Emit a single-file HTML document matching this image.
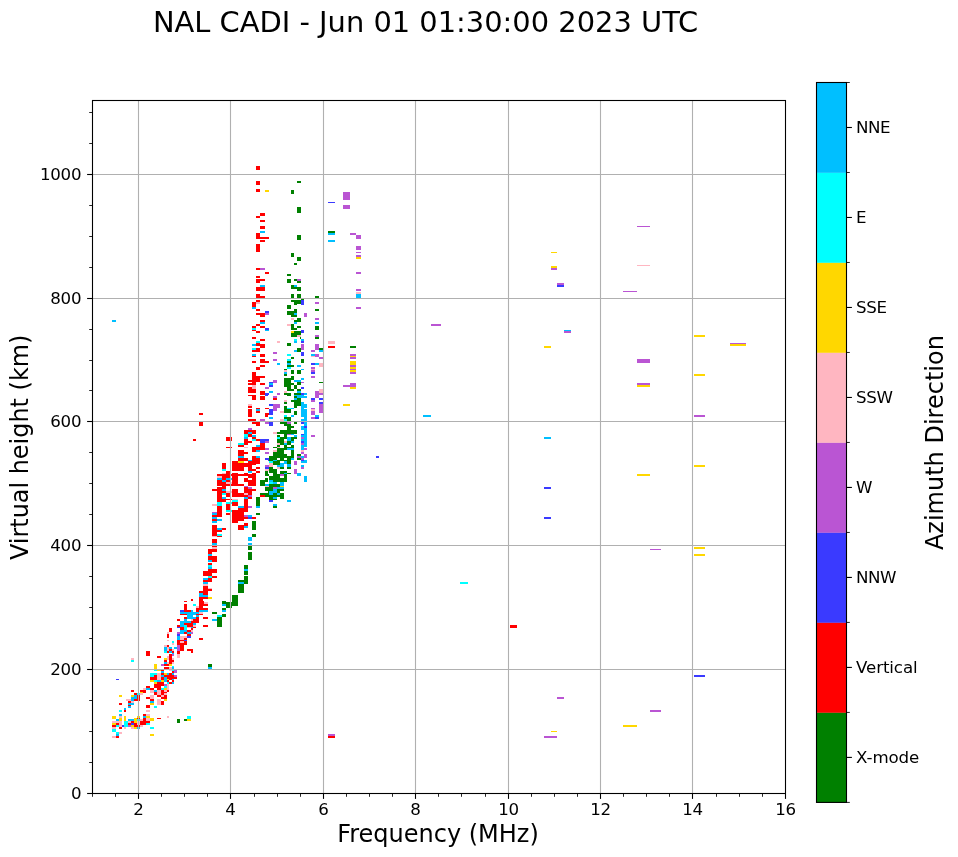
<!DOCTYPE html>
<html><head><meta charset="utf-8"><title>NAL CADI ionogram</title>
<style>
html,body{margin:0;padding:0;background:#fff;}
body{width:958px;height:857px;overflow:hidden;}
svg{display:block;will-change:transform;}
text{font-family:"DejaVu Sans","Liberation Sans",sans-serif;fill:#000;}
.tk{font-size:16.67px;letter-spacing:-0.3px;}
.cb{font-size:16.67px;letter-spacing:-0.1px;}
.lb{font-size:24px;}
.ti{font-size:28.9px;}
</style></head><body>
<svg width="958" height="857" viewBox="0 0 958 857">
<rect x="0" y="0" width="958" height="857" fill="#ffffff"/>

<g shape-rendering="crispEdges">
<rect x="112" y="736" width="4" height="2" fill="#ffb6c1"/>
<rect x="116" y="736" width="3" height="2" fill="#ff0000"/>
<rect x="116" y="734" width="3" height="2" fill="#00bfff"/>
<rect x="116" y="732" width="3" height="2" fill="#00ffff"/>
<rect x="119" y="732" width="3" height="2" fill="#ffb6c1"/>
<rect x="112" y="729" width="4" height="3" fill="#00ffff"/>
<rect x="112" y="727" width="4" height="2" fill="#ffb6c1"/>
<rect x="119" y="727" width="3" height="2" fill="#ff0000"/>
<rect x="124" y="727" width="2" height="2" fill="#ffb6c1"/>
<rect x="131" y="727" width="3" height="2" fill="#ffb6c1"/>
<rect x="134" y="727" width="3" height="2" fill="#ffd700"/>
<rect x="137" y="727" width="3" height="2" fill="#00bfff"/>
<rect x="150" y="727" width="4" height="2" fill="#00ffff"/>
<rect x="112" y="725" width="4" height="2" fill="#ff0000"/>
<rect x="116" y="725" width="3" height="2" fill="#00ffff"/>
<rect x="119" y="725" width="3" height="2" fill="#ffb6c1"/>
<rect x="122" y="725" width="2" height="2" fill="#3a3aff"/>
<rect x="124" y="725" width="4" height="2" fill="#00ffff"/>
<rect x="128" y="725" width="3" height="2" fill="#ba55d3"/>
<rect x="131" y="725" width="3" height="2" fill="#ffd700"/>
<rect x="134" y="725" width="6" height="2" fill="#ff0000"/>
<rect x="140" y="725" width="3" height="2" fill="#ffb6c1"/>
<rect x="112" y="723" width="4" height="2" fill="#ffd700"/>
<rect x="116" y="723" width="3" height="2" fill="#ff0000"/>
<rect x="119" y="723" width="3" height="2" fill="#ffb6c1"/>
<rect x="124" y="723" width="4" height="2" fill="#00ffff"/>
<rect x="128" y="723" width="3" height="2" fill="#ff0000"/>
<rect x="131" y="723" width="3" height="2" fill="#3a3aff"/>
<rect x="134" y="723" width="3" height="2" fill="#ff0000"/>
<rect x="137" y="723" width="3" height="2" fill="#ffb6c1"/>
<rect x="140" y="723" width="6" height="2" fill="#ff0000"/>
<rect x="146" y="723" width="4" height="2" fill="#00ffff"/>
<rect x="112" y="721" width="10" height="2" fill="#ffb6c1"/>
<rect x="124" y="721" width="4" height="2" fill="#00ffff"/>
<rect x="128" y="721" width="3" height="2" fill="#ffb6c1"/>
<rect x="131" y="721" width="3" height="2" fill="#ff0000"/>
<rect x="134" y="721" width="3" height="2" fill="#ffd700"/>
<rect x="137" y="721" width="3" height="2" fill="#ffb6c1"/>
<rect x="140" y="721" width="10" height="2" fill="#ff0000"/>
<rect x="116" y="719" width="3" height="2" fill="#00bfff"/>
<rect x="119" y="719" width="3" height="2" fill="#ffd700"/>
<rect x="124" y="719" width="2" height="2" fill="#ffd700"/>
<rect x="128" y="719" width="6" height="2" fill="#00bfff"/>
<rect x="134" y="719" width="3" height="2" fill="#ffd700"/>
<rect x="137" y="719" width="3" height="2" fill="#00ffff"/>
<rect x="140" y="719" width="3" height="2" fill="#ffb6c1"/>
<rect x="143" y="719" width="3" height="2" fill="#ff0000"/>
<rect x="146" y="719" width="4" height="2" fill="#ffb6c1"/>
<rect x="150" y="719" width="4" height="2" fill="#ffd700"/>
<rect x="119" y="718" width="3" height="1" fill="#ffd700"/>
<rect x="124" y="718" width="2" height="1" fill="#ffd700"/>
<rect x="134" y="718" width="3" height="1" fill="#ffd700"/>
<rect x="137" y="718" width="3" height="1" fill="#ff0000"/>
<rect x="143" y="718" width="3" height="1" fill="#ff0000"/>
<rect x="146" y="718" width="4" height="1" fill="#ffb6c1"/>
<rect x="150" y="718" width="4" height="1" fill="#ffd700"/>
<rect x="157" y="718" width="4" height="1" fill="#ff0000"/>
<rect x="112" y="716" width="4" height="2" fill="#ffd700"/>
<rect x="119" y="716" width="3" height="2" fill="#ffb6c1"/>
<rect x="124" y="716" width="2" height="2" fill="#ffd700"/>
<rect x="137" y="716" width="3" height="2" fill="#ffd700"/>
<rect x="143" y="716" width="3" height="2" fill="#00bfff"/>
<rect x="146" y="716" width="4" height="2" fill="#ffd700"/>
<rect x="167" y="716" width="2" height="2" fill="#ffb6c1"/>
<rect x="112" y="718" width="4" height="1" fill="#ffd700"/>
<rect x="119" y="714" width="3" height="2" fill="#00bfff"/>
<rect x="143" y="714" width="3" height="2" fill="#ff0000"/>
<rect x="146" y="714" width="4" height="2" fill="#ffb6c1"/>
<rect x="119" y="710" width="3" height="2" fill="#00ffff"/>
<rect x="124" y="710" width="2" height="2" fill="#ff0000"/>
<rect x="146" y="710" width="4" height="2" fill="#ffb6c1"/>
<rect x="124" y="708" width="2" height="2" fill="#00bfff"/>
<rect x="128" y="706" width="3" height="2" fill="#00bfff"/>
<rect x="146" y="706" width="4" height="2" fill="#ff0000"/>
<rect x="154" y="706" width="3" height="2" fill="#00ffff"/>
<rect x="128" y="705" width="3" height="1" fill="#ff0000"/>
<rect x="146" y="705" width="4" height="1" fill="#ff0000"/>
<rect x="119" y="703" width="3" height="2" fill="#ff0000"/>
<rect x="128" y="703" width="6" height="2" fill="#00bfff"/>
<rect x="150" y="703" width="4" height="2" fill="#ffd700"/>
<rect x="161" y="703" width="3" height="2" fill="#ff0000"/>
<rect x="128" y="701" width="3" height="2" fill="#ff0000"/>
<rect x="131" y="701" width="3" height="2" fill="#ffb6c1"/>
<rect x="150" y="701" width="4" height="2" fill="#00bfff"/>
<rect x="161" y="701" width="3" height="2" fill="#ff0000"/>
<rect x="157" y="701" width="4" height="2" fill="#ffb6c1"/>
<rect x="126" y="699" width="5" height="2" fill="#ffb6c1"/>
<rect x="131" y="699" width="3" height="2" fill="#00bfff"/>
<rect x="134" y="699" width="6" height="2" fill="#ff0000"/>
<rect x="150" y="699" width="4" height="2" fill="#ff0000"/>
<rect x="157" y="699" width="4" height="2" fill="#ffb6c1"/>
<rect x="164" y="699" width="3" height="2" fill="#ffd700"/>
<rect x="131" y="697" width="6" height="2" fill="#00bfff"/>
<rect x="137" y="697" width="3" height="2" fill="#ff0000"/>
<rect x="146" y="697" width="4" height="2" fill="#ff0000"/>
<rect x="150" y="697" width="4" height="2" fill="#ffb6c1"/>
<rect x="161" y="697" width="6" height="2" fill="#ff0000"/>
<rect x="119" y="695" width="3" height="2" fill="#ffd700"/>
<rect x="131" y="695" width="3" height="2" fill="#ffd700"/>
<rect x="134" y="695" width="3" height="2" fill="#00bfff"/>
<rect x="137" y="695" width="3" height="2" fill="#ff0000"/>
<rect x="150" y="695" width="4" height="2" fill="#ffb6c1"/>
<rect x="157" y="695" width="4" height="2" fill="#ff0000"/>
<rect x="161" y="695" width="3" height="2" fill="#ffb6c1"/>
<rect x="164" y="695" width="3" height="2" fill="#ff0000"/>
<rect x="134" y="693" width="3" height="2" fill="#ff0000"/>
<rect x="137" y="693" width="3" height="2" fill="#00ffff"/>
<rect x="140" y="693" width="3" height="2" fill="#ffb6c1"/>
<rect x="154" y="693" width="3" height="2" fill="#ff0000"/>
<rect x="157" y="693" width="4" height="2" fill="#ffb6c1"/>
<rect x="161" y="693" width="3" height="2" fill="#ff0000"/>
<rect x="164" y="693" width="3" height="2" fill="#ffb6c1"/>
<rect x="140" y="692" width="3" height="1" fill="#ffd700"/>
<rect x="143" y="692" width="3" height="1" fill="#ff0000"/>
<rect x="150" y="692" width="4" height="1" fill="#ffb6c1"/>
<rect x="154" y="692" width="3" height="1" fill="#ff0000"/>
<rect x="157" y="692" width="4" height="1" fill="#ffb6c1"/>
<rect x="161" y="692" width="6" height="1" fill="#ff0000"/>
<rect x="150" y="734" width="4" height="2" fill="#ffd700"/>
<rect x="157" y="703" width="4" height="2" fill="#ffb6c1"/>
<rect x="177" y="719" width="3" height="4" fill="#008000"/>
<rect x="184" y="719" width="3" height="2" fill="#008000"/>
<rect x="187" y="719" width="4" height="2" fill="#ffd700"/>
<rect x="187" y="716" width="4" height="3" fill="#00ffff"/>
<rect x="131" y="690" width="3" height="2" fill="#ff0000"/>
<rect x="140" y="690" width="6" height="2" fill="#ff0000"/>
<rect x="150" y="690" width="4" height="2" fill="#ffb6c1"/>
<rect x="154" y="690" width="3" height="2" fill="#00bfff"/>
<rect x="157" y="690" width="4" height="2" fill="#ffb6c1"/>
<rect x="161" y="690" width="3" height="2" fill="#ff0000"/>
<rect x="164" y="690" width="3" height="2" fill="#ffb6c1"/>
<rect x="167" y="690" width="2" height="2" fill="#ff0000"/>
<rect x="143" y="688" width="3" height="2" fill="#ffb6c1"/>
<rect x="146" y="688" width="4" height="2" fill="#00bfff"/>
<rect x="150" y="688" width="4" height="2" fill="#ff0000"/>
<rect x="157" y="688" width="4" height="2" fill="#ff0000"/>
<rect x="161" y="688" width="3" height="2" fill="#00ffff"/>
<rect x="164" y="688" width="3" height="2" fill="#ffd700"/>
<rect x="167" y="688" width="2" height="2" fill="#ffb6c1"/>
<rect x="146" y="686" width="4" height="2" fill="#ff0000"/>
<rect x="154" y="686" width="7" height="2" fill="#ff0000"/>
<rect x="164" y="686" width="3" height="2" fill="#00ffff"/>
<rect x="167" y="686" width="2" height="2" fill="#ffb6c1"/>
<rect x="154" y="684" width="10" height="2" fill="#ff0000"/>
<rect x="164" y="684" width="3" height="2" fill="#ba55d3"/>
<rect x="167" y="684" width="2" height="2" fill="#ffb6c1"/>
<rect x="154" y="682" width="3" height="2" fill="#ffd700"/>
<rect x="157" y="682" width="7" height="2" fill="#ff0000"/>
<rect x="167" y="682" width="2" height="2" fill="#00ffff"/>
<rect x="169" y="682" width="3" height="2" fill="#ff0000"/>
<rect x="150" y="680" width="4" height="2" fill="#ffd700"/>
<rect x="154" y="680" width="3" height="2" fill="#00ffff"/>
<rect x="157" y="680" width="4" height="2" fill="#00bfff"/>
<rect x="161" y="680" width="3" height="2" fill="#ffd700"/>
<rect x="164" y="680" width="3" height="2" fill="#00bfff"/>
<rect x="167" y="680" width="2" height="2" fill="#ff0000"/>
<rect x="150" y="679" width="7" height="1" fill="#ff0000"/>
<rect x="157" y="679" width="4" height="1" fill="#ffb6c1"/>
<rect x="161" y="679" width="3" height="1" fill="#ff0000"/>
<rect x="164" y="679" width="3" height="1" fill="#00bfff"/>
<rect x="169" y="679" width="3" height="1" fill="#ff0000"/>
<rect x="167" y="679" width="2" height="1" fill="#ffd700"/>
<rect x="150" y="677" width="7" height="2" fill="#ff0000"/>
<rect x="157" y="677" width="4" height="2" fill="#ffb6c1"/>
<rect x="161" y="677" width="3" height="2" fill="#ff0000"/>
<rect x="164" y="677" width="3" height="2" fill="#00bfff"/>
<rect x="167" y="677" width="5" height="2" fill="#ff0000"/>
<rect x="150" y="675" width="4" height="2" fill="#00ffff"/>
<rect x="154" y="675" width="3" height="2" fill="#ff0000"/>
<rect x="157" y="675" width="4" height="2" fill="#ffb6c1"/>
<rect x="161" y="675" width="3" height="2" fill="#00bfff"/>
<rect x="164" y="675" width="8" height="2" fill="#ff0000"/>
<rect x="150" y="673" width="7" height="2" fill="#00ffff"/>
<rect x="157" y="673" width="4" height="2" fill="#ffb6c1"/>
<rect x="161" y="673" width="3" height="2" fill="#ff0000"/>
<rect x="164" y="673" width="3" height="2" fill="#ffd700"/>
<rect x="167" y="673" width="2" height="2" fill="#00bfff"/>
<rect x="169" y="673" width="3" height="2" fill="#ff0000"/>
<rect x="161" y="671" width="3" height="2" fill="#00bfff"/>
<rect x="154" y="669" width="3" height="2" fill="#00ffff"/>
<rect x="157" y="669" width="4" height="2" fill="#ffd700"/>
<rect x="161" y="669" width="3" height="2" fill="#ff0000"/>
<rect x="169" y="669" width="3" height="2" fill="#ffb6c1"/>
<rect x="154" y="664" width="3" height="5" fill="#ffd700"/>
<rect x="164" y="667" width="5" height="2" fill="#ff0000"/>
<rect x="169" y="667" width="3" height="2" fill="#ffb6c1"/>
<rect x="161" y="664" width="3" height="2" fill="#ba55d3"/>
<rect x="164" y="664" width="5" height="2" fill="#ff0000"/>
<rect x="169" y="664" width="3" height="2" fill="#ffd700"/>
<rect x="164" y="662" width="3" height="2" fill="#00bfff"/>
<rect x="167" y="662" width="2" height="2" fill="#ffb6c1"/>
<rect x="169" y="662" width="3" height="2" fill="#ff0000"/>
<rect x="164" y="660" width="3" height="2" fill="#ff0000"/>
<rect x="169" y="660" width="3" height="2" fill="#ff0000"/>
<rect x="131" y="660" width="3" height="2" fill="#00ffff"/>
<rect x="164" y="658" width="3" height="2" fill="#ffd700"/>
<rect x="167" y="658" width="2" height="2" fill="#ffb6c1"/>
<rect x="169" y="658" width="3" height="2" fill="#ff0000"/>
<rect x="131" y="658" width="3" height="2" fill="#ffb6c1"/>
<rect x="157" y="656" width="4" height="2" fill="#ff0000"/>
<rect x="167" y="656" width="2" height="2" fill="#ffb6c1"/>
<rect x="169" y="656" width="3" height="2" fill="#ff0000"/>
<rect x="169" y="654" width="3" height="2" fill="#ff0000"/>
<rect x="146" y="651" width="4" height="5" fill="#ff0000"/>
<rect x="164" y="651" width="3" height="2" fill="#00ffff"/>
<rect x="167" y="651" width="2" height="2" fill="#ff0000"/>
<rect x="169" y="651" width="3" height="2" fill="#00bfff"/>
<rect x="164" y="649" width="3" height="2" fill="#00bfff"/>
<rect x="167" y="649" width="2" height="2" fill="#ffb6c1"/>
<rect x="169" y="649" width="3" height="2" fill="#ff0000"/>
<rect x="164" y="647" width="3" height="2" fill="#00bfff"/>
<rect x="167" y="647" width="2" height="2" fill="#ffb6c1"/>
<rect x="169" y="647" width="3" height="2" fill="#00bfff"/>
<rect x="164" y="645" width="3" height="2" fill="#ffb6c1"/>
<rect x="167" y="645" width="2" height="2" fill="#ff0000"/>
<rect x="167" y="640" width="2" height="1" fill="#ffb6c1"/>
<rect x="167" y="634" width="2" height="4" fill="#ff0000"/>
<rect x="116" y="679" width="3" height="1" fill="#3a3aff"/>
<rect x="172" y="682" width="2" height="2" fill="#00bfff"/>
<rect x="172" y="680" width="2" height="2" fill="#ff0000"/>
<rect x="172" y="679" width="2" height="1" fill="#00bfff"/>
<rect x="172" y="677" width="5" height="2" fill="#ff0000"/>
<rect x="172" y="675" width="2" height="2" fill="#ff0000"/>
<rect x="174" y="675" width="3" height="2" fill="#ba55d3"/>
<rect x="172" y="673" width="2" height="2" fill="#00bfff"/>
<rect x="172" y="671" width="2" height="2" fill="#ff0000"/>
<rect x="174" y="671" width="3" height="2" fill="#ba55d3"/>
<rect x="172" y="669" width="2" height="2" fill="#00ffff"/>
<rect x="174" y="669" width="3" height="2" fill="#ba55d3"/>
<rect x="172" y="667" width="2" height="2" fill="#00bfff"/>
<rect x="208" y="667" width="4" height="2" fill="#00bfff"/>
<rect x="172" y="666" width="2" height="1" fill="#00ffff"/>
<rect x="208" y="664" width="4" height="3" fill="#008000"/>
<rect x="172" y="662" width="2" height="2" fill="#ffb6c1"/>
<rect x="172" y="660" width="2" height="2" fill="#ff0000"/>
<rect x="172" y="658" width="2" height="2" fill="#ffb6c1"/>
<rect x="172" y="654" width="2" height="2" fill="#ba55d3"/>
<rect x="177" y="654" width="3" height="4" fill="#ffb6c1"/>
<rect x="172" y="653" width="2" height="1" fill="#00bfff"/>
<rect x="172" y="651" width="2" height="2" fill="#ff0000"/>
<rect x="191" y="651" width="2" height="2" fill="#ff0000"/>
<rect x="177" y="651" width="3" height="3" fill="#ff0000"/>
<rect x="172" y="649" width="2" height="2" fill="#ffb6c1"/>
<rect x="187" y="649" width="6" height="2" fill="#ff0000"/>
<rect x="174" y="647" width="3" height="2" fill="#00bfff"/>
<rect x="177" y="645" width="3" height="6" fill="#ba55d3"/>
<rect x="180" y="645" width="4" height="6" fill="#ff0000"/>
<rect x="177" y="641" width="10" height="4" fill="#ff0000"/>
<rect x="180" y="641" width="4" height="2" fill="#ffb6c1"/>
<rect x="172" y="641" width="2" height="2" fill="#00ffff"/>
<rect x="172" y="643" width="2" height="2" fill="#ffb6c1"/>
<rect x="177" y="640" width="7" height="1" fill="#ff0000"/>
<rect x="184" y="640" width="3" height="1" fill="#3a3aff"/>
<rect x="184" y="638" width="3" height="2" fill="#ff0000"/>
<rect x="199" y="638" width="4" height="2" fill="#ff0000"/>
<rect x="177" y="636" width="3" height="4" fill="#00bfff"/>
<rect x="180" y="636" width="4" height="4" fill="#ffb6c1"/>
<rect x="184" y="636" width="3" height="2" fill="#ffb6c1"/>
<rect x="187" y="636" width="4" height="2" fill="#3a3aff"/>
<rect x="177" y="634" width="3" height="2" fill="#3a3aff"/>
<rect x="187" y="634" width="4" height="2" fill="#ff0000"/>
<rect x="167" y="634" width="2" height="1" fill="#ff0000"/>
<rect x="177" y="634" width="3" height="1" fill="#3a3aff"/>
<rect x="187" y="634" width="4" height="1" fill="#ff0000"/>
<rect x="177" y="632" width="3" height="2" fill="#ba55d3"/>
<rect x="180" y="632" width="4" height="2" fill="#00bfff"/>
<rect x="184" y="632" width="3" height="2" fill="#ff0000"/>
<rect x="187" y="632" width="4" height="2" fill="#00bfff"/>
<rect x="191" y="632" width="2" height="2" fill="#ba55d3"/>
<rect x="167" y="632" width="2" height="2" fill="#ffb6c1"/>
<rect x="180" y="630" width="7" height="2" fill="#00bfff"/>
<rect x="187" y="630" width="4" height="2" fill="#ff0000"/>
<rect x="191" y="630" width="2" height="2" fill="#ffb6c1"/>
<rect x="169" y="628" width="3" height="4" fill="#ff0000"/>
<rect x="180" y="628" width="4" height="2" fill="#ff0000"/>
<rect x="184" y="628" width="3" height="2" fill="#00ffff"/>
<rect x="191" y="628" width="2" height="2" fill="#ff0000"/>
<rect x="177" y="627" width="3" height="1" fill="#3a3aff"/>
<rect x="180" y="627" width="4" height="1" fill="#ff0000"/>
<rect x="184" y="627" width="3" height="1" fill="#00ffff"/>
<rect x="187" y="627" width="4" height="1" fill="#ffb6c1"/>
<rect x="191" y="627" width="2" height="1" fill="#00bfff"/>
<rect x="193" y="627" width="3" height="1" fill="#ff0000"/>
<rect x="177" y="625" width="3" height="2" fill="#ff0000"/>
<rect x="180" y="625" width="4" height="2" fill="#00bfff"/>
<rect x="184" y="625" width="3" height="2" fill="#00ffff"/>
<rect x="187" y="625" width="6" height="2" fill="#ff0000"/>
<rect x="193" y="625" width="3" height="2" fill="#ffb6c1"/>
<rect x="203" y="625" width="1" height="2" fill="#ff0000"/>
<rect x="180" y="623" width="4" height="2" fill="#00bfff"/>
<rect x="184" y="623" width="9" height="2" fill="#ff0000"/>
<rect x="193" y="623" width="3" height="2" fill="#00bfff"/>
<rect x="180" y="621" width="11" height="2" fill="#00bfff"/>
<rect x="191" y="621" width="8" height="2" fill="#ff0000"/>
<rect x="177" y="619" width="3" height="2" fill="#ff0000"/>
<rect x="184" y="619" width="3" height="2" fill="#00bfff"/>
<rect x="191" y="619" width="2" height="2" fill="#ffb6c1"/>
<rect x="193" y="619" width="6" height="2" fill="#ff0000"/>
<rect x="184" y="617" width="3" height="2" fill="#ff0000"/>
<rect x="187" y="617" width="9" height="2" fill="#00bfff"/>
<rect x="196" y="617" width="3" height="2" fill="#ff0000"/>
<rect x="203" y="617" width="1" height="2" fill="#ff0000"/>
<rect x="187" y="615" width="6" height="2" fill="#00bfff"/>
<rect x="196" y="615" width="3" height="2" fill="#00bfff"/>
<rect x="180" y="614" width="7" height="1" fill="#ff0000"/>
<rect x="187" y="614" width="9" height="1" fill="#00bfff"/>
<rect x="196" y="614" width="7" height="1" fill="#ff0000"/>
<rect x="180" y="612" width="19" height="2" fill="#00bfff"/>
<rect x="199" y="612" width="4" height="2" fill="#ffb6c1"/>
<rect x="180" y="610" width="4" height="2" fill="#3a3aff"/>
<rect x="184" y="610" width="7" height="2" fill="#ff0000"/>
<rect x="191" y="610" width="2" height="2" fill="#00bfff"/>
<rect x="196" y="610" width="3" height="2" fill="#ff0000"/>
<rect x="199" y="610" width="5" height="2" fill="#00bfff"/>
<rect x="184" y="608" width="3" height="2" fill="#ff0000"/>
<rect x="196" y="608" width="8" height="2" fill="#ff0000"/>
<rect x="184" y="606" width="3" height="2" fill="#ff0000"/>
<rect x="196" y="606" width="3" height="2" fill="#ffb6c1"/>
<rect x="199" y="606" width="4" height="2" fill="#ff0000"/>
<rect x="184" y="604" width="3" height="2" fill="#ff0000"/>
<rect x="193" y="604" width="3" height="2" fill="#00ffff"/>
<rect x="199" y="604" width="5" height="2" fill="#ff0000"/>
<rect x="184" y="601" width="3" height="1" fill="#ff0000"/>
<rect x="191" y="599" width="2" height="2" fill="#ff0000"/>
<rect x="199" y="599" width="4" height="2" fill="#ff0000"/>
<rect x="199" y="597" width="5" height="2" fill="#ff0000"/>
<rect x="199" y="601" width="5" height="3" fill="#ff0000"/>
<rect x="199" y="593" width="5" height="4" fill="#00bfff"/>
<rect x="199" y="591" width="4" height="2" fill="#ff0000"/>
<rect x="203" y="586" width="1" height="9" fill="#ff0000"/>
<rect x="203" y="584" width="1" height="2" fill="#ffb6c1"/>
<rect x="203" y="582" width="1" height="2" fill="#00bfff"/>
<rect x="203" y="580" width="1" height="2" fill="#ff0000"/>
<rect x="203" y="578" width="1" height="2" fill="#00bfff"/>
<rect x="204" y="625" width="4" height="2" fill="#ff0000"/>
<rect x="204" y="617" width="4" height="2" fill="#ff0000"/>
<rect x="204" y="610" width="4" height="2" fill="#00bfff"/>
<rect x="222" y="610" width="4" height="2" fill="#00bfff"/>
<rect x="204" y="608" width="4" height="2" fill="#ff0000"/>
<rect x="222" y="608" width="4" height="2" fill="#008000"/>
<rect x="204" y="604" width="4" height="2" fill="#ff0000"/>
<rect x="222" y="604" width="4" height="2" fill="#00bfff"/>
<rect x="204" y="602" width="4" height="2" fill="#ffb6c1"/>
<rect x="204" y="597" width="4" height="2" fill="#ff0000"/>
<rect x="208" y="597" width="4" height="2" fill="#ffd700"/>
<rect x="204" y="595" width="4" height="2" fill="#00bfff"/>
<rect x="204" y="586" width="4" height="9" fill="#ff0000"/>
<rect x="208" y="589" width="4" height="2" fill="#ff0000"/>
<rect x="208" y="588" width="4" height="1" fill="#ffb6c1"/>
<rect x="204" y="584" width="4" height="2" fill="#ffb6c1"/>
<rect x="204" y="582" width="4" height="2" fill="#00bfff"/>
<rect x="238" y="582" width="6" height="2" fill="#00bfff"/>
<rect x="204" y="580" width="8" height="2" fill="#ff0000"/>
<rect x="238" y="580" width="6" height="2" fill="#008000"/>
<rect x="204" y="578" width="4" height="2" fill="#00bfff"/>
<rect x="208" y="578" width="4" height="2" fill="#ff0000"/>
<rect x="217" y="617" width="5" height="10" fill="#008000"/>
<rect x="217" y="615" width="5" height="2" fill="#00ffff"/>
<rect x="212" y="619" width="5" height="2" fill="#00bfff"/>
<rect x="212" y="612" width="5" height="2" fill="#008000"/>
<rect x="222" y="614" width="4" height="3" fill="#008000"/>
<rect x="222" y="601" width="4" height="3" fill="#008000"/>
<rect x="226" y="602" width="6" height="6" fill="#008000"/>
<rect x="232" y="595" width="6" height="11" fill="#008000"/>
<rect x="238" y="584" width="6" height="9" fill="#008000"/>
<rect x="244" y="578" width="4" height="6" fill="#008000"/>
<rect x="208" y="576" width="4" height="2" fill="#00ffff"/>
<rect x="212" y="576" width="5" height="2" fill="#ff0000"/>
<rect x="203" y="573" width="9" height="3" fill="#ff0000"/>
<rect x="203" y="571" width="14" height="2" fill="#ff0000"/>
<rect x="208" y="569" width="9" height="2" fill="#ff0000"/>
<rect x="208" y="567" width="4" height="2" fill="#00bfff"/>
<rect x="208" y="565" width="4" height="2" fill="#00ffff"/>
<rect x="208" y="563" width="4" height="2" fill="#ff0000"/>
<rect x="208" y="560" width="4" height="2" fill="#00bfff"/>
<rect x="212" y="556" width="5" height="6" fill="#ff0000"/>
<rect x="208" y="556" width="4" height="4" fill="#ff0000"/>
<rect x="208" y="554" width="4" height="2" fill="#00bfff"/>
<rect x="208" y="549" width="4" height="5" fill="#ff0000"/>
<rect x="212" y="549" width="5" height="3" fill="#ff0000"/>
<rect x="212" y="547" width="5" height="2" fill="#ffb6c1"/>
<rect x="212" y="545" width="5" height="2" fill="#ff0000"/>
<rect x="212" y="543" width="5" height="2" fill="#00bfff"/>
<rect x="212" y="539" width="5" height="4" fill="#ff0000"/>
<rect x="212" y="536" width="5" height="1" fill="#ffb6c1"/>
<rect x="217" y="536" width="5" height="1" fill="#ff0000"/>
<rect x="212" y="534" width="5" height="2" fill="#ff0000"/>
<rect x="217" y="534" width="5" height="2" fill="#00ffff"/>
<rect x="212" y="532" width="5" height="2" fill="#ff0000"/>
<rect x="212" y="530" width="10" height="2" fill="#ff0000"/>
<rect x="212" y="528" width="5" height="2" fill="#ff0000"/>
<rect x="217" y="528" width="5" height="2" fill="#00bfff"/>
<rect x="222" y="528" width="4" height="2" fill="#ff0000"/>
<rect x="212" y="525" width="5" height="3" fill="#ff0000"/>
<rect x="212" y="521" width="5" height="2" fill="#00bfff"/>
<rect x="232" y="521" width="4" height="2" fill="#ff0000"/>
<rect x="244" y="576" width="4" height="2" fill="#008000"/>
<rect x="244" y="571" width="4" height="4" fill="#008000"/>
<rect x="244" y="569" width="4" height="2" fill="#00bfff"/>
<rect x="244" y="565" width="4" height="4" fill="#008000"/>
<rect x="248" y="552" width="4" height="8" fill="#008000"/>
<rect x="248" y="545" width="4" height="5" fill="#008000"/>
<rect x="248" y="543" width="4" height="2" fill="#00bfff"/>
<rect x="248" y="537" width="4" height="4" fill="#00bfff"/>
<rect x="252" y="534" width="4" height="3" fill="#008000"/>
<rect x="252" y="521" width="4" height="9" fill="#008000"/>
<rect x="238" y="525" width="6" height="5" fill="#ff0000"/>
<rect x="244" y="523" width="4" height="3" fill="#ff0000"/>
<rect x="244" y="526" width="4" height="2" fill="#00bfff"/>
<rect x="236" y="521" width="2" height="2" fill="#ff0000"/>
<rect x="212" y="519" width="5" height="2" fill="#ff0000"/>
<rect x="217" y="519" width="5" height="2" fill="#00bfff"/>
<rect x="232" y="519" width="12" height="2" fill="#ff0000"/>
<rect x="212" y="517" width="5" height="2" fill="#00bfff"/>
<rect x="232" y="517" width="16" height="2" fill="#ff0000"/>
<rect x="248" y="517" width="4" height="2" fill="#3a3aff"/>
<rect x="252" y="517" width="4" height="2" fill="#ff0000"/>
<rect x="212" y="515" width="10" height="2" fill="#ff0000"/>
<rect x="232" y="515" width="12" height="2" fill="#ff0000"/>
<rect x="244" y="515" width="4" height="2" fill="#ba55d3"/>
<rect x="248" y="515" width="4" height="2" fill="#00bfff"/>
<rect x="212" y="513" width="5" height="2" fill="#00bfff"/>
<rect x="217" y="513" width="5" height="2" fill="#ff0000"/>
<rect x="226" y="513" width="4" height="2" fill="#ff0000"/>
<rect x="232" y="513" width="12" height="2" fill="#ff0000"/>
<rect x="256" y="513" width="4" height="2" fill="#008000"/>
<rect x="212" y="512" width="5" height="1" fill="#ba55d3"/>
<rect x="217" y="512" width="5" height="1" fill="#ff0000"/>
<rect x="232" y="512" width="12" height="1" fill="#ff0000"/>
<rect x="217" y="510" width="5" height="2" fill="#ff0000"/>
<rect x="226" y="510" width="6" height="2" fill="#00ffff"/>
<rect x="232" y="510" width="16" height="2" fill="#ff0000"/>
<rect x="217" y="508" width="5" height="2" fill="#ff0000"/>
<rect x="226" y="508" width="4" height="2" fill="#ff0000"/>
<rect x="238" y="508" width="10" height="2" fill="#ff0000"/>
<rect x="217" y="506" width="5" height="2" fill="#ff0000"/>
<rect x="226" y="506" width="4" height="2" fill="#ff0000"/>
<rect x="238" y="506" width="6" height="2" fill="#00bfff"/>
<rect x="244" y="506" width="4" height="2" fill="#ff0000"/>
<rect x="248" y="506" width="4" height="2" fill="#ba55d3"/>
<rect x="256" y="506" width="4" height="2" fill="#00bfff"/>
<rect x="212" y="504" width="5" height="2" fill="#ffb6c1"/>
<rect x="217" y="504" width="5" height="2" fill="#00ffff"/>
<rect x="226" y="504" width="4" height="2" fill="#ff0000"/>
<rect x="232" y="504" width="6" height="2" fill="#ff0000"/>
<rect x="244" y="504" width="4" height="2" fill="#ff0000"/>
<rect x="256" y="504" width="4" height="2" fill="#008000"/>
<rect x="217" y="502" width="5" height="2" fill="#00ffff"/>
<rect x="226" y="502" width="6" height="2" fill="#00ffff"/>
<rect x="232" y="502" width="6" height="2" fill="#ff0000"/>
<rect x="244" y="502" width="4" height="2" fill="#ff0000"/>
<rect x="256" y="502" width="4" height="2" fill="#008000"/>
<rect x="217" y="500" width="9" height="2" fill="#ff0000"/>
<rect x="232" y="500" width="6" height="2" fill="#00ffff"/>
<rect x="244" y="500" width="4" height="2" fill="#ff0000"/>
<rect x="256" y="500" width="4" height="2" fill="#008000"/>
<rect x="217" y="499" width="15" height="1" fill="#ff0000"/>
<rect x="232" y="499" width="6" height="1" fill="#ffb6c1"/>
<rect x="244" y="499" width="4" height="1" fill="#ff0000"/>
<rect x="256" y="499" width="4" height="1" fill="#008000"/>
<rect x="217" y="497" width="5" height="2" fill="#ff0000"/>
<rect x="222" y="497" width="4" height="2" fill="#00bfff"/>
<rect x="244" y="497" width="4" height="2" fill="#00bfff"/>
<rect x="248" y="497" width="4" height="2" fill="#ff0000"/>
<rect x="256" y="497" width="4" height="2" fill="#008000"/>
<rect x="217" y="495" width="5" height="2" fill="#ff0000"/>
<rect x="226" y="495" width="4" height="2" fill="#ff0000"/>
<rect x="232" y="495" width="16" height="2" fill="#ff0000"/>
<rect x="248" y="495" width="4" height="2" fill="#ba55d3"/>
<rect x="260" y="495" width="5" height="2" fill="#ff0000"/>
<rect x="265" y="495" width="3" height="2" fill="#008000"/>
<rect x="217" y="493" width="5" height="2" fill="#ff0000"/>
<rect x="222" y="493" width="4" height="2" fill="#00ffff"/>
<rect x="226" y="493" width="4" height="2" fill="#ff0000"/>
<rect x="232" y="493" width="12" height="2" fill="#ff0000"/>
<rect x="244" y="493" width="4" height="2" fill="#ffb6c1"/>
<rect x="248" y="493" width="4" height="2" fill="#ff0000"/>
<rect x="260" y="493" width="8" height="2" fill="#008000"/>
<rect x="217" y="491" width="9" height="2" fill="#ff0000"/>
<rect x="226" y="491" width="6" height="2" fill="#ffb6c1"/>
<rect x="232" y="491" width="6" height="2" fill="#ff0000"/>
<rect x="244" y="491" width="8" height="2" fill="#ff0000"/>
<rect x="212" y="489" width="10" height="2" fill="#ff0000"/>
<rect x="222" y="489" width="4" height="2" fill="#00bfff"/>
<rect x="232" y="489" width="6" height="2" fill="#ff0000"/>
<rect x="244" y="489" width="12" height="2" fill="#ff0000"/>
<rect x="265" y="489" width="3" height="2" fill="#008000"/>
<rect x="217" y="487" width="9" height="2" fill="#ff0000"/>
<rect x="244" y="487" width="4" height="2" fill="#ff0000"/>
<rect x="248" y="487" width="4" height="2" fill="#ba55d3"/>
<rect x="265" y="487" width="3" height="2" fill="#008000"/>
<rect x="222" y="486" width="4" height="1" fill="#ff0000"/>
<rect x="244" y="486" width="4" height="1" fill="#ba55d3"/>
<rect x="265" y="486" width="3" height="1" fill="#ffb6c1"/>
<rect x="217" y="484" width="27" height="2" fill="#ff0000"/>
<rect x="248" y="484" width="8" height="2" fill="#ff0000"/>
<rect x="265" y="484" width="3" height="2" fill="#00bfff"/>
<rect x="260" y="484" width="5" height="2" fill="#008000"/>
<rect x="217" y="482" width="9" height="2" fill="#ff0000"/>
<rect x="226" y="482" width="6" height="2" fill="#ffb6c1"/>
<rect x="232" y="482" width="6" height="2" fill="#ff0000"/>
<rect x="248" y="482" width="8" height="2" fill="#ff0000"/>
<rect x="260" y="482" width="5" height="2" fill="#008000"/>
<rect x="217" y="480" width="5" height="2" fill="#ff0000"/>
<rect x="222" y="480" width="4" height="2" fill="#00bfff"/>
<rect x="226" y="480" width="4" height="2" fill="#ff0000"/>
<rect x="232" y="480" width="6" height="2" fill="#ff0000"/>
<rect x="244" y="480" width="12" height="2" fill="#ff0000"/>
<rect x="260" y="480" width="8" height="2" fill="#008000"/>
<rect x="217" y="478" width="5" height="2" fill="#00bfff"/>
<rect x="222" y="478" width="4" height="2" fill="#ff0000"/>
<rect x="226" y="478" width="6" height="2" fill="#00bfff"/>
<rect x="232" y="478" width="6" height="2" fill="#ff0000"/>
<rect x="244" y="478" width="4" height="2" fill="#ff0000"/>
<rect x="252" y="478" width="4" height="2" fill="#ff0000"/>
<rect x="265" y="478" width="3" height="2" fill="#008000"/>
<rect x="217" y="476" width="5" height="2" fill="#ffb6c1"/>
<rect x="222" y="476" width="8" height="2" fill="#ff0000"/>
<rect x="232" y="476" width="6" height="2" fill="#ff0000"/>
<rect x="248" y="476" width="8" height="2" fill="#ff0000"/>
<rect x="217" y="474" width="39" height="2" fill="#ff0000"/>
<rect x="265" y="474" width="3" height="2" fill="#008000"/>
<rect x="222" y="473" width="4" height="1" fill="#ffb6c1"/>
<rect x="226" y="473" width="4" height="1" fill="#ff0000"/>
<rect x="232" y="473" width="6" height="1" fill="#ff0000"/>
<rect x="244" y="473" width="4" height="1" fill="#ff0000"/>
<rect x="252" y="473" width="4" height="1" fill="#ff0000"/>
<rect x="265" y="473" width="3" height="1" fill="#008000"/>
<rect x="226" y="471" width="4" height="2" fill="#ff0000"/>
<rect x="248" y="471" width="4" height="2" fill="#00bfff"/>
<rect x="256" y="471" width="4" height="2" fill="#ff0000"/>
<rect x="265" y="471" width="3" height="2" fill="#008000"/>
<rect x="222" y="469" width="4" height="2" fill="#00ffff"/>
<rect x="232" y="469" width="12" height="2" fill="#ff0000"/>
<rect x="248" y="469" width="8" height="2" fill="#ff0000"/>
<rect x="265" y="469" width="3" height="2" fill="#ffb6c1"/>
<rect x="222" y="467" width="4" height="2" fill="#ff0000"/>
<rect x="232" y="467" width="12" height="2" fill="#ff0000"/>
<rect x="248" y="467" width="4" height="2" fill="#ff0000"/>
<rect x="256" y="467" width="4" height="2" fill="#ff0000"/>
<rect x="265" y="467" width="3" height="2" fill="#3a3aff"/>
<rect x="222" y="465" width="4" height="2" fill="#ff0000"/>
<rect x="232" y="465" width="20" height="2" fill="#ff0000"/>
<rect x="265" y="465" width="3" height="2" fill="#ba55d3"/>
<rect x="222" y="463" width="4" height="2" fill="#ff0000"/>
<rect x="232" y="463" width="24" height="2" fill="#ff0000"/>
<rect x="273" y="506" width="4" height="2" fill="#008000"/>
<rect x="273" y="504" width="4" height="2" fill="#00bfff"/>
<rect x="269" y="500" width="4" height="2" fill="#3a3aff"/>
<rect x="287" y="500" width="4" height="2" fill="#00bfff"/>
<rect x="269" y="499" width="8" height="1" fill="#008000"/>
<rect x="269" y="497" width="4" height="2" fill="#008000"/>
<rect x="273" y="497" width="4" height="2" fill="#00bfff"/>
<rect x="280" y="497" width="4" height="2" fill="#008000"/>
<rect x="268" y="495" width="16" height="2" fill="#008000"/>
<rect x="268" y="493" width="1" height="2" fill="#008000"/>
<rect x="269" y="493" width="4" height="2" fill="#00bfff"/>
<rect x="273" y="493" width="4" height="2" fill="#008000"/>
<rect x="277" y="493" width="3" height="2" fill="#00bfff"/>
<rect x="280" y="493" width="4" height="2" fill="#008000"/>
<rect x="268" y="491" width="1" height="2" fill="#008000"/>
<rect x="269" y="491" width="8" height="2" fill="#00bfff"/>
<rect x="277" y="491" width="3" height="2" fill="#008000"/>
<rect x="268" y="489" width="5" height="2" fill="#008000"/>
<rect x="273" y="489" width="4" height="2" fill="#00bfff"/>
<rect x="277" y="489" width="7" height="2" fill="#008000"/>
<rect x="268" y="487" width="5" height="2" fill="#008000"/>
<rect x="273" y="487" width="4" height="2" fill="#ba55d3"/>
<rect x="277" y="487" width="7" height="2" fill="#00bfff"/>
<rect x="268" y="486" width="1" height="1" fill="#ffb6c1"/>
<rect x="269" y="486" width="11" height="1" fill="#008000"/>
<rect x="280" y="486" width="4" height="1" fill="#ffd700"/>
<rect x="268" y="484" width="1" height="2" fill="#00bfff"/>
<rect x="269" y="484" width="11" height="2" fill="#008000"/>
<rect x="280" y="484" width="4" height="2" fill="#00bfff"/>
<rect x="269" y="482" width="4" height="2" fill="#00ffff"/>
<rect x="273" y="482" width="4" height="2" fill="#00bfff"/>
<rect x="280" y="482" width="4" height="2" fill="#00bfff"/>
<rect x="269" y="480" width="4" height="2" fill="#00bfff"/>
<rect x="273" y="480" width="14" height="2" fill="#008000"/>
<rect x="269" y="478" width="18" height="2" fill="#008000"/>
<rect x="269" y="476" width="11" height="2" fill="#008000"/>
<rect x="284" y="476" width="3" height="2" fill="#008000"/>
<rect x="268" y="474" width="1" height="2" fill="#008000"/>
<rect x="273" y="474" width="7" height="2" fill="#008000"/>
<rect x="280" y="474" width="4" height="2" fill="#ba55d3"/>
<rect x="284" y="474" width="3" height="2" fill="#008000"/>
<rect x="273" y="473" width="4" height="1" fill="#008000"/>
<rect x="280" y="473" width="4" height="1" fill="#008000"/>
<rect x="284" y="473" width="3" height="1" fill="#00bfff"/>
<rect x="287" y="473" width="4" height="1" fill="#008000"/>
<rect x="269" y="471" width="8" height="2" fill="#008000"/>
<rect x="280" y="471" width="7" height="2" fill="#008000"/>
<rect x="268" y="469" width="1" height="2" fill="#ffb6c1"/>
<rect x="269" y="469" width="8" height="2" fill="#008000"/>
<rect x="268" y="467" width="1" height="2" fill="#3a3aff"/>
<rect x="269" y="467" width="4" height="2" fill="#008000"/>
<rect x="277" y="467" width="3" height="2" fill="#ffb6c1"/>
<rect x="280" y="467" width="4" height="2" fill="#008000"/>
<rect x="287" y="467" width="4" height="2" fill="#008000"/>
<rect x="268" y="465" width="1" height="2" fill="#ba55d3"/>
<rect x="269" y="465" width="4" height="2" fill="#ffb6c1"/>
<rect x="277" y="465" width="7" height="2" fill="#00bfff"/>
<rect x="287" y="465" width="4" height="2" fill="#00bfff"/>
<rect x="269" y="463" width="4" height="2" fill="#ffb6c1"/>
<rect x="273" y="463" width="7" height="2" fill="#008000"/>
<rect x="280" y="463" width="4" height="2" fill="#00bfff"/>
<rect x="287" y="463" width="4" height="2" fill="#00bfff"/>
<rect x="294" y="469" width="3" height="5" fill="#ba55d3"/>
<rect x="297" y="473" width="4" height="3" fill="#00bfff"/>
<rect x="304" y="476" width="3" height="6" fill="#00bfff"/>
<rect x="301" y="465" width="3" height="2" fill="#00bfff"/>
<rect x="301" y="467" width="3" height="2" fill="#ba55d3"/>
<rect x="294" y="463" width="3" height="2" fill="#ba55d3"/>
<rect x="222" y="463" width="4" height="1" fill="#ff0000"/>
<rect x="232" y="463" width="28" height="1" fill="#ff0000"/>
<rect x="232" y="461" width="6" height="2" fill="#ff0000"/>
<rect x="238" y="461" width="6" height="2" fill="#ffd700"/>
<rect x="248" y="461" width="12" height="2" fill="#ff0000"/>
<rect x="238" y="460" width="10" height="1" fill="#ff0000"/>
<rect x="248" y="460" width="4" height="1" fill="#00bfff"/>
<rect x="252" y="460" width="8" height="1" fill="#ff0000"/>
<rect x="238" y="458" width="10" height="2" fill="#ff0000"/>
<rect x="252" y="458" width="8" height="2" fill="#ff0000"/>
<rect x="265" y="458" width="3" height="2" fill="#3a3aff"/>
<rect x="238" y="456" width="6" height="2" fill="#00bfff"/>
<rect x="252" y="456" width="4" height="2" fill="#ff0000"/>
<rect x="256" y="456" width="4" height="2" fill="#00bfff"/>
<rect x="238" y="454" width="6" height="2" fill="#ff0000"/>
<rect x="238" y="452" width="10" height="2" fill="#ff0000"/>
<rect x="265" y="452" width="3" height="2" fill="#ba55d3"/>
<rect x="238" y="450" width="6" height="2" fill="#ff0000"/>
<rect x="252" y="450" width="4" height="2" fill="#ff0000"/>
<rect x="256" y="450" width="4" height="2" fill="#00bfff"/>
<rect x="252" y="448" width="13" height="2" fill="#ff0000"/>
<rect x="265" y="448" width="3" height="2" fill="#ba55d3"/>
<rect x="226" y="447" width="6" height="1" fill="#ff0000"/>
<rect x="244" y="447" width="4" height="1" fill="#ffb6c1"/>
<rect x="252" y="447" width="13" height="1" fill="#ff0000"/>
<rect x="238" y="445" width="6" height="2" fill="#ff0000"/>
<rect x="256" y="445" width="4" height="2" fill="#00bfff"/>
<rect x="260" y="445" width="5" height="2" fill="#ff0000"/>
<rect x="238" y="443" width="6" height="2" fill="#00ffff"/>
<rect x="244" y="443" width="4" height="2" fill="#ff0000"/>
<rect x="260" y="443" width="5" height="2" fill="#ff0000"/>
<rect x="244" y="441" width="8" height="2" fill="#ff0000"/>
<rect x="260" y="441" width="5" height="2" fill="#3a3aff"/>
<rect x="265" y="441" width="3" height="2" fill="#ba55d3"/>
<rect x="244" y="439" width="4" height="2" fill="#ff0000"/>
<rect x="252" y="439" width="4" height="2" fill="#00ffff"/>
<rect x="256" y="439" width="4" height="2" fill="#ff0000"/>
<rect x="260" y="439" width="8" height="2" fill="#3a3aff"/>
<rect x="226" y="437" width="6" height="4" fill="#ff0000"/>
<rect x="244" y="437" width="4" height="2" fill="#00bfff"/>
<rect x="252" y="437" width="4" height="2" fill="#ff0000"/>
<rect x="244" y="434" width="4" height="3" fill="#00ffff"/>
<rect x="248" y="434" width="4" height="3" fill="#ff0000"/>
<rect x="252" y="435" width="4" height="2" fill="#00bfff"/>
<rect x="244" y="432" width="4" height="2" fill="#ff0000"/>
<rect x="248" y="432" width="4" height="2" fill="#00bfff"/>
<rect x="252" y="432" width="4" height="2" fill="#ff0000"/>
<rect x="244" y="430" width="12" height="2" fill="#ff0000"/>
<rect x="248" y="428" width="4" height="2" fill="#ba55d3"/>
<rect x="256" y="424" width="4" height="2" fill="#ff0000"/>
<rect x="252" y="422" width="8" height="2" fill="#ff0000"/>
<rect x="265" y="422" width="3" height="2" fill="#ba55d3"/>
<rect x="248" y="419" width="8" height="2" fill="#ff0000"/>
<rect x="260" y="419" width="5" height="2" fill="#ba55d3"/>
<rect x="248" y="413" width="4" height="4" fill="#ff0000"/>
<rect x="265" y="413" width="3" height="4" fill="#ff0000"/>
<rect x="256" y="411" width="4" height="2" fill="#ff0000"/>
<rect x="248" y="409" width="4" height="4" fill="#ff0000"/>
<rect x="256" y="409" width="4" height="2" fill="#00bfff"/>
<rect x="256" y="408" width="4" height="1" fill="#ff0000"/>
<rect x="265" y="408" width="3" height="1" fill="#ff0000"/>
<rect x="248" y="406" width="4" height="2" fill="#ff0000"/>
<rect x="269" y="463" width="4" height="1" fill="#ffb6c1"/>
<rect x="273" y="463" width="7" height="1" fill="#008000"/>
<rect x="284" y="463" width="3" height="1" fill="#00bfff"/>
<rect x="287" y="463" width="4" height="1" fill="#008000"/>
<rect x="294" y="463" width="3" height="1" fill="#ba55d3"/>
<rect x="269" y="461" width="4" height="2" fill="#00ffff"/>
<rect x="273" y="461" width="7" height="2" fill="#008000"/>
<rect x="284" y="461" width="3" height="2" fill="#00bfff"/>
<rect x="287" y="461" width="4" height="2" fill="#008000"/>
<rect x="294" y="461" width="3" height="2" fill="#ba55d3"/>
<rect x="301" y="461" width="6" height="2" fill="#00bfff"/>
<rect x="268" y="460" width="1" height="1" fill="#3a3aff"/>
<rect x="269" y="460" width="4" height="1" fill="#008000"/>
<rect x="273" y="460" width="4" height="1" fill="#00bfff"/>
<rect x="277" y="460" width="14" height="1" fill="#008000"/>
<rect x="301" y="460" width="3" height="1" fill="#3a3aff"/>
<rect x="304" y="460" width="3" height="1" fill="#00bfff"/>
<rect x="268" y="458" width="1" height="2" fill="#3a3aff"/>
<rect x="269" y="458" width="8" height="2" fill="#008000"/>
<rect x="280" y="458" width="4" height="2" fill="#008000"/>
<rect x="287" y="458" width="4" height="2" fill="#008000"/>
<rect x="291" y="458" width="3" height="2" fill="#00bfff"/>
<rect x="297" y="458" width="4" height="2" fill="#008000"/>
<rect x="301" y="458" width="3" height="2" fill="#ba55d3"/>
<rect x="269" y="456" width="25" height="2" fill="#008000"/>
<rect x="297" y="456" width="4" height="2" fill="#ba55d3"/>
<rect x="301" y="456" width="3" height="2" fill="#00bfff"/>
<rect x="304" y="456" width="3" height="2" fill="#ba55d3"/>
<rect x="273" y="454" width="14" height="2" fill="#008000"/>
<rect x="291" y="454" width="3" height="2" fill="#008000"/>
<rect x="297" y="454" width="4" height="2" fill="#008000"/>
<rect x="304" y="454" width="3" height="2" fill="#ba55d3"/>
<rect x="268" y="452" width="1" height="2" fill="#ba55d3"/>
<rect x="273" y="452" width="11" height="2" fill="#008000"/>
<rect x="291" y="452" width="3" height="2" fill="#008000"/>
<rect x="301" y="452" width="3" height="2" fill="#ba55d3"/>
<rect x="273" y="450" width="4" height="2" fill="#ffb6c1"/>
<rect x="277" y="450" width="7" height="2" fill="#008000"/>
<rect x="291" y="450" width="3" height="2" fill="#008000"/>
<rect x="301" y="450" width="3" height="2" fill="#ffb6c1"/>
<rect x="268" y="448" width="1" height="2" fill="#ba55d3"/>
<rect x="277" y="448" width="10" height="2" fill="#008000"/>
<rect x="287" y="448" width="7" height="2" fill="#00bfff"/>
<rect x="301" y="448" width="3" height="2" fill="#00bfff"/>
<rect x="304" y="448" width="3" height="2" fill="#ba55d3"/>
<rect x="273" y="447" width="4" height="1" fill="#008000"/>
<rect x="277" y="447" width="3" height="1" fill="#ffb6c1"/>
<rect x="284" y="447" width="10" height="1" fill="#008000"/>
<rect x="301" y="447" width="3" height="1" fill="#00bfff"/>
<rect x="277" y="445" width="3" height="2" fill="#008000"/>
<rect x="284" y="445" width="3" height="2" fill="#008000"/>
<rect x="291" y="445" width="3" height="2" fill="#008000"/>
<rect x="301" y="445" width="6" height="2" fill="#00bfff"/>
<rect x="277" y="443" width="3" height="2" fill="#ffb6c1"/>
<rect x="280" y="443" width="4" height="2" fill="#008000"/>
<rect x="284" y="443" width="3" height="2" fill="#00bfff"/>
<rect x="287" y="443" width="4" height="2" fill="#008000"/>
<rect x="301" y="443" width="3" height="2" fill="#ba55d3"/>
<rect x="304" y="443" width="3" height="2" fill="#00bfff"/>
<rect x="268" y="441" width="1" height="2" fill="#ba55d3"/>
<rect x="277" y="441" width="7" height="2" fill="#008000"/>
<rect x="284" y="441" width="3" height="2" fill="#ffb6c1"/>
<rect x="287" y="441" width="4" height="2" fill="#008000"/>
<rect x="291" y="441" width="3" height="2" fill="#00bfff"/>
<rect x="301" y="441" width="3" height="2" fill="#3a3aff"/>
<rect x="304" y="441" width="3" height="2" fill="#00bfff"/>
<rect x="268" y="439" width="1" height="2" fill="#3a3aff"/>
<rect x="277" y="439" width="7" height="2" fill="#008000"/>
<rect x="287" y="439" width="4" height="2" fill="#00bfff"/>
<rect x="291" y="439" width="3" height="2" fill="#008000"/>
<rect x="301" y="439" width="6" height="2" fill="#00bfff"/>
<rect x="277" y="437" width="3" height="2" fill="#00ffff"/>
<rect x="280" y="437" width="7" height="2" fill="#008000"/>
<rect x="287" y="437" width="4" height="2" fill="#00bfff"/>
<rect x="291" y="437" width="6" height="2" fill="#008000"/>
<rect x="301" y="437" width="3" height="2" fill="#ba55d3"/>
<rect x="304" y="437" width="3" height="2" fill="#00bfff"/>
<rect x="277" y="435" width="3" height="2" fill="#008000"/>
<rect x="284" y="435" width="3" height="2" fill="#008000"/>
<rect x="294" y="435" width="3" height="2" fill="#00bfff"/>
<rect x="301" y="435" width="6" height="2" fill="#00bfff"/>
<rect x="311" y="435" width="4" height="2" fill="#ba55d3"/>
<rect x="284" y="434" width="3" height="1" fill="#008000"/>
<rect x="287" y="434" width="4" height="1" fill="#ba55d3"/>
<rect x="291" y="434" width="3" height="1" fill="#00bfff"/>
<rect x="301" y="434" width="3" height="1" fill="#3a3aff"/>
<rect x="304" y="434" width="3" height="1" fill="#00bfff"/>
<rect x="273" y="432" width="4" height="2" fill="#ffb6c1"/>
<rect x="277" y="432" width="20" height="2" fill="#008000"/>
<rect x="304" y="432" width="3" height="2" fill="#00bfff"/>
<rect x="280" y="430" width="17" height="2" fill="#008000"/>
<rect x="304" y="430" width="3" height="2" fill="#00bfff"/>
<rect x="287" y="428" width="4" height="2" fill="#008000"/>
<rect x="301" y="428" width="6" height="2" fill="#00bfff"/>
<rect x="287" y="426" width="7" height="2" fill="#008000"/>
<rect x="301" y="426" width="3" height="2" fill="#00bfff"/>
<rect x="304" y="426" width="3" height="2" fill="#3a3aff"/>
<rect x="269" y="424" width="4" height="2" fill="#3a3aff"/>
<rect x="284" y="424" width="7" height="2" fill="#008000"/>
<rect x="304" y="424" width="3" height="2" fill="#00bfff"/>
<rect x="268" y="422" width="1" height="2" fill="#ba55d3"/>
<rect x="269" y="422" width="4" height="2" fill="#3a3aff"/>
<rect x="280" y="422" width="7" height="2" fill="#008000"/>
<rect x="287" y="422" width="4" height="2" fill="#ba55d3"/>
<rect x="294" y="422" width="3" height="2" fill="#008000"/>
<rect x="301" y="422" width="3" height="2" fill="#3a3aff"/>
<rect x="304" y="422" width="3" height="2" fill="#00bfff"/>
<rect x="280" y="419" width="4" height="2" fill="#ffb6c1"/>
<rect x="284" y="419" width="3" height="2" fill="#00ffff"/>
<rect x="287" y="419" width="4" height="2" fill="#008000"/>
<rect x="301" y="419" width="6" height="2" fill="#00bfff"/>
<rect x="269" y="417" width="4" height="2" fill="#00bfff"/>
<rect x="284" y="417" width="7" height="2" fill="#008000"/>
<rect x="304" y="417" width="3" height="2" fill="#00bfff"/>
<rect x="311" y="417" width="4" height="2" fill="#ba55d3"/>
<rect x="315" y="417" width="4" height="2" fill="#3a3aff"/>
<rect x="284" y="415" width="3" height="2" fill="#00ffff"/>
<rect x="291" y="415" width="3" height="2" fill="#00bfff"/>
<rect x="301" y="415" width="6" height="2" fill="#00bfff"/>
<rect x="315" y="415" width="4" height="2" fill="#00bfff"/>
<rect x="268" y="413" width="1" height="2" fill="#ff0000"/>
<rect x="269" y="413" width="4" height="2" fill="#3a3aff"/>
<rect x="294" y="413" width="3" height="2" fill="#008000"/>
<rect x="301" y="413" width="6" height="2" fill="#00bfff"/>
<rect x="311" y="413" width="4" height="2" fill="#ba55d3"/>
<rect x="269" y="411" width="4" height="2" fill="#3a3aff"/>
<rect x="280" y="411" width="4" height="2" fill="#ffb6c1"/>
<rect x="284" y="411" width="7" height="2" fill="#008000"/>
<rect x="294" y="411" width="3" height="2" fill="#008000"/>
<rect x="301" y="411" width="6" height="2" fill="#00bfff"/>
<rect x="311" y="411" width="4" height="2" fill="#ba55d3"/>
<rect x="269" y="409" width="4" height="2" fill="#3a3aff"/>
<rect x="273" y="409" width="4" height="2" fill="#ba55d3"/>
<rect x="284" y="409" width="7" height="2" fill="#008000"/>
<rect x="301" y="409" width="6" height="2" fill="#00bfff"/>
<rect x="311" y="409" width="4" height="2" fill="#ffb6c1"/>
<rect x="268" y="408" width="1" height="1" fill="#ff0000"/>
<rect x="273" y="408" width="4" height="1" fill="#ba55d3"/>
<rect x="284" y="408" width="3" height="1" fill="#008000"/>
<rect x="287" y="408" width="4" height="1" fill="#00ffff"/>
<rect x="291" y="408" width="3" height="1" fill="#00bfff"/>
<rect x="301" y="408" width="3" height="1" fill="#00bfff"/>
<rect x="311" y="408" width="4" height="1" fill="#ba55d3"/>
<rect x="273" y="406" width="7" height="2" fill="#ba55d3"/>
<rect x="284" y="406" width="3" height="2" fill="#008000"/>
<rect x="294" y="406" width="3" height="2" fill="#008000"/>
<rect x="301" y="406" width="6" height="2" fill="#00bfff"/>
<rect x="319" y="406" width="4" height="7" fill="#ba55d3"/>
<rect x="248" y="406" width="4" height="1" fill="#ff0000"/>
<rect x="248" y="404" width="4" height="2" fill="#ffb6c1"/>
<rect x="252" y="396" width="4" height="4" fill="#ff0000"/>
<rect x="260" y="396" width="5" height="4" fill="#ff0000"/>
<rect x="248" y="395" width="8" height="1" fill="#ff0000"/>
<rect x="265" y="393" width="3" height="3" fill="#3a3aff"/>
<rect x="260" y="391" width="5" height="4" fill="#ff0000"/>
<rect x="248" y="389" width="8" height="4" fill="#ff0000"/>
<rect x="248" y="387" width="4" height="2" fill="#ff0000"/>
<rect x="252" y="387" width="4" height="2" fill="#ffb6c1"/>
<rect x="265" y="387" width="3" height="2" fill="#ba55d3"/>
<rect x="252" y="385" width="4" height="2" fill="#ffb6c1"/>
<rect x="248" y="383" width="8" height="2" fill="#ff0000"/>
<rect x="260" y="383" width="5" height="2" fill="#ff0000"/>
<rect x="252" y="382" width="4" height="1" fill="#ff0000"/>
<rect x="248" y="380" width="12" height="2" fill="#ff0000"/>
<rect x="252" y="378" width="8" height="2" fill="#ff0000"/>
<rect x="252" y="376" width="13" height="2" fill="#ff0000"/>
<rect x="252" y="372" width="4" height="4" fill="#ff0000"/>
<rect x="256" y="367" width="4" height="3" fill="#ff0000"/>
<rect x="260" y="365" width="5" height="2" fill="#ff0000"/>
<rect x="252" y="361" width="4" height="2" fill="#ff0000"/>
<rect x="260" y="361" width="8" height="2" fill="#ff0000"/>
<rect x="260" y="359" width="5" height="2" fill="#ff0000"/>
<rect x="252" y="356" width="4" height="1" fill="#ff0000"/>
<rect x="252" y="354" width="4" height="2" fill="#00bfff"/>
<rect x="260" y="354" width="5" height="3" fill="#ff0000"/>
<rect x="252" y="350" width="8" height="2" fill="#ff0000"/>
<rect x="284" y="406" width="3" height="1" fill="#008000"/>
<rect x="294" y="406" width="3" height="1" fill="#008000"/>
<rect x="301" y="406" width="6" height="1" fill="#00bfff"/>
<rect x="319" y="406" width="4" height="1" fill="#ba55d3"/>
<rect x="269" y="404" width="4" height="2" fill="#3a3aff"/>
<rect x="273" y="404" width="7" height="2" fill="#ba55d3"/>
<rect x="294" y="404" width="7" height="2" fill="#008000"/>
<rect x="301" y="404" width="6" height="2" fill="#00bfff"/>
<rect x="319" y="404" width="4" height="2" fill="#ba55d3"/>
<rect x="284" y="402" width="3" height="2" fill="#008000"/>
<rect x="294" y="402" width="7" height="2" fill="#008000"/>
<rect x="301" y="402" width="3" height="2" fill="#00bfff"/>
<rect x="319" y="402" width="4" height="2" fill="#3a3aff"/>
<rect x="284" y="400" width="3" height="2" fill="#ffb6c1"/>
<rect x="291" y="400" width="10" height="2" fill="#008000"/>
<rect x="311" y="400" width="4" height="2" fill="#ba55d3"/>
<rect x="273" y="398" width="4" height="2" fill="#ff0000"/>
<rect x="294" y="398" width="3" height="2" fill="#00bfff"/>
<rect x="297" y="398" width="4" height="2" fill="#008000"/>
<rect x="311" y="398" width="4" height="2" fill="#3a3aff"/>
<rect x="319" y="398" width="4" height="2" fill="#3a3aff"/>
<rect x="273" y="396" width="4" height="2" fill="#ba55d3"/>
<rect x="294" y="396" width="3" height="2" fill="#008000"/>
<rect x="297" y="396" width="10" height="2" fill="#00bfff"/>
<rect x="315" y="396" width="4" height="2" fill="#ba55d3"/>
<rect x="294" y="395" width="10" height="1" fill="#00bfff"/>
<rect x="315" y="395" width="4" height="1" fill="#ba55d3"/>
<rect x="287" y="393" width="4" height="3" fill="#008000"/>
<rect x="268" y="393" width="1" height="2" fill="#3a3aff"/>
<rect x="277" y="393" width="3" height="2" fill="#ba55d3"/>
<rect x="284" y="393" width="3" height="2" fill="#008000"/>
<rect x="294" y="393" width="7" height="2" fill="#008000"/>
<rect x="301" y="393" width="3" height="2" fill="#3a3aff"/>
<rect x="304" y="393" width="3" height="2" fill="#00bfff"/>
<rect x="315" y="393" width="8" height="2" fill="#ba55d3"/>
<rect x="269" y="391" width="4" height="2" fill="#00bfff"/>
<rect x="284" y="391" width="3" height="2" fill="#ffb6c1"/>
<rect x="297" y="391" width="4" height="2" fill="#00bfff"/>
<rect x="315" y="391" width="4" height="2" fill="#ba55d3"/>
<rect x="319" y="389" width="4" height="4" fill="#ffb6c1"/>
<rect x="287" y="389" width="7" height="2" fill="#008000"/>
<rect x="297" y="389" width="4" height="2" fill="#008000"/>
<rect x="268" y="387" width="1" height="2" fill="#ba55d3"/>
<rect x="287" y="387" width="4" height="2" fill="#008000"/>
<rect x="294" y="387" width="3" height="2" fill="#008000"/>
<rect x="301" y="387" width="3" height="2" fill="#3a3aff"/>
<rect x="269" y="385" width="4" height="2" fill="#3a3aff"/>
<rect x="284" y="385" width="7" height="2" fill="#008000"/>
<rect x="294" y="385" width="3" height="2" fill="#008000"/>
<rect x="269" y="383" width="4" height="2" fill="#00bfff"/>
<rect x="284" y="383" width="10" height="2" fill="#008000"/>
<rect x="297" y="383" width="4" height="2" fill="#008000"/>
<rect x="269" y="382" width="4" height="1" fill="#3a3aff"/>
<rect x="273" y="382" width="4" height="1" fill="#ba55d3"/>
<rect x="284" y="382" width="7" height="1" fill="#008000"/>
<rect x="297" y="382" width="4" height="1" fill="#008000"/>
<rect x="301" y="382" width="3" height="1" fill="#ba55d3"/>
<rect x="319" y="382" width="4" height="1" fill="#008000"/>
<rect x="273" y="380" width="4" height="2" fill="#ba55d3"/>
<rect x="284" y="380" width="7" height="2" fill="#008000"/>
<rect x="294" y="380" width="7" height="2" fill="#00bfff"/>
<rect x="284" y="378" width="10" height="2" fill="#008000"/>
<rect x="301" y="378" width="3" height="2" fill="#00bfff"/>
<rect x="291" y="376" width="3" height="2" fill="#008000"/>
<rect x="311" y="376" width="4" height="2" fill="#ba55d3"/>
<rect x="284" y="374" width="3" height="2" fill="#008000"/>
<rect x="284" y="372" width="3" height="2" fill="#00bfff"/>
<rect x="291" y="372" width="3" height="2" fill="#008000"/>
<rect x="297" y="372" width="4" height="2" fill="#008000"/>
<rect x="311" y="372" width="4" height="2" fill="#3a3aff"/>
<rect x="284" y="370" width="3" height="2" fill="#ffb6c1"/>
<rect x="291" y="370" width="3" height="2" fill="#008000"/>
<rect x="297" y="370" width="4" height="2" fill="#008000"/>
<rect x="311" y="370" width="4" height="2" fill="#ba55d3"/>
<rect x="284" y="369" width="3" height="1" fill="#008000"/>
<rect x="301" y="369" width="3" height="1" fill="#00bfff"/>
<rect x="311" y="369" width="4" height="1" fill="#ffb6c1"/>
<rect x="287" y="367" width="4" height="2" fill="#00ffff"/>
<rect x="311" y="367" width="4" height="2" fill="#ba55d3"/>
<rect x="287" y="365" width="7" height="2" fill="#008000"/>
<rect x="297" y="365" width="4" height="2" fill="#00bfff"/>
<rect x="277" y="363" width="3" height="2" fill="#00bfff"/>
<rect x="287" y="363" width="4" height="2" fill="#00bfff"/>
<rect x="311" y="363" width="4" height="2" fill="#3a3aff"/>
<rect x="315" y="363" width="4" height="2" fill="#00bfff"/>
<rect x="319" y="363" width="4" height="4" fill="#ffb6c1"/>
<rect x="268" y="361" width="1" height="2" fill="#ff0000"/>
<rect x="287" y="361" width="4" height="2" fill="#008000"/>
<rect x="273" y="359" width="4" height="2" fill="#ba55d3"/>
<rect x="287" y="359" width="4" height="2" fill="#00ffff"/>
<rect x="301" y="359" width="3" height="4" fill="#008000"/>
<rect x="291" y="357" width="3" height="2" fill="#008000"/>
<rect x="319" y="357" width="4" height="2" fill="#ba55d3"/>
<rect x="287" y="354" width="4" height="2" fill="#00ffff"/>
<rect x="311" y="354" width="4" height="2" fill="#00bfff"/>
<rect x="315" y="354" width="4" height="3" fill="#ba55d3"/>
<rect x="311" y="356" width="4" height="1" fill="#ffb6c1"/>
<rect x="273" y="352" width="4" height="2" fill="#ba55d3"/>
<rect x="301" y="352" width="3" height="4" fill="#3a3aff"/>
<rect x="294" y="350" width="3" height="2" fill="#00bfff"/>
<rect x="297" y="350" width="4" height="2" fill="#008000"/>
<rect x="311" y="350" width="4" height="2" fill="#ba55d3"/>
<rect x="319" y="350" width="4" height="2" fill="#00bfff"/>
<rect x="252" y="348" width="4" height="2" fill="#00ffff"/>
<rect x="256" y="348" width="4" height="2" fill="#ff0000"/>
<rect x="297" y="348" width="3" height="2" fill="#008000"/>
<rect x="260" y="346" width="5" height="2" fill="#ff0000"/>
<rect x="252" y="344" width="4" height="2" fill="#00bfff"/>
<rect x="256" y="344" width="9" height="2" fill="#ff0000"/>
<rect x="287" y="343" width="4" height="3" fill="#008000"/>
<rect x="256" y="343" width="4" height="1" fill="#ff0000"/>
<rect x="256" y="341" width="4" height="2" fill="#00ffff"/>
<rect x="277" y="341" width="3" height="2" fill="#ffb6c1"/>
<rect x="294" y="341" width="3" height="2" fill="#00bfff"/>
<rect x="260" y="339" width="5" height="2" fill="#ff0000"/>
<rect x="294" y="339" width="3" height="2" fill="#00ffff"/>
<rect x="252" y="337" width="4" height="2" fill="#ff0000"/>
<rect x="291" y="335" width="6" height="2" fill="#008000"/>
<rect x="297" y="335" width="3" height="2" fill="#ffb6c1"/>
<rect x="291" y="333" width="9" height="2" fill="#008000"/>
<rect x="256" y="331" width="4" height="2" fill="#ff0000"/>
<rect x="291" y="331" width="3" height="2" fill="#ffd700"/>
<rect x="294" y="331" width="6" height="2" fill="#008000"/>
<rect x="252" y="330" width="4" height="1" fill="#ff0000"/>
<rect x="265" y="330" width="4" height="1" fill="#00bfff"/>
<rect x="252" y="328" width="4" height="2" fill="#00ffff"/>
<rect x="265" y="328" width="4" height="2" fill="#3a3aff"/>
<rect x="291" y="328" width="6" height="2" fill="#008000"/>
<rect x="252" y="326" width="4" height="2" fill="#ff0000"/>
<rect x="260" y="326" width="5" height="2" fill="#ff0000"/>
<rect x="291" y="326" width="3" height="2" fill="#008000"/>
<rect x="297" y="326" width="3" height="2" fill="#008000"/>
<rect x="256" y="324" width="4" height="2" fill="#ff0000"/>
<rect x="287" y="324" width="4" height="2" fill="#ffb6c1"/>
<rect x="291" y="324" width="3" height="2" fill="#008000"/>
<rect x="260" y="322" width="5" height="2" fill="#00bfff"/>
<rect x="294" y="322" width="3" height="2" fill="#00bfff"/>
<rect x="260" y="320" width="5" height="2" fill="#ff0000"/>
<rect x="294" y="320" width="6" height="2" fill="#008000"/>
<rect x="291" y="318" width="3" height="2" fill="#ffb6c1"/>
<rect x="297" y="318" width="3" height="2" fill="#008000"/>
<rect x="260" y="315" width="5" height="2" fill="#ff0000"/>
<rect x="291" y="315" width="6" height="2" fill="#008000"/>
<rect x="256" y="313" width="9" height="2" fill="#ff0000"/>
<rect x="265" y="313" width="4" height="2" fill="#ba55d3"/>
<rect x="287" y="313" width="7" height="2" fill="#008000"/>
<rect x="294" y="313" width="3" height="2" fill="#00bfff"/>
<rect x="265" y="311" width="4" height="2" fill="#3a3aff"/>
<rect x="287" y="311" width="10" height="2" fill="#008000"/>
<rect x="256" y="309" width="4" height="2" fill="#ff0000"/>
<rect x="294" y="309" width="3" height="2" fill="#008000"/>
<rect x="252" y="307" width="4" height="2" fill="#00bfff"/>
<rect x="287" y="305" width="4" height="4" fill="#008000"/>
<rect x="252" y="302" width="4" height="5" fill="#ff0000"/>
<rect x="256" y="302" width="4" height="2" fill="#ffb6c1"/>
<rect x="294" y="302" width="6" height="2" fill="#008000"/>
<rect x="294" y="304" width="3" height="1" fill="#008000"/>
<rect x="256" y="300" width="4" height="2" fill="#ff0000"/>
<rect x="291" y="300" width="9" height="2" fill="#008000"/>
<rect x="256" y="296" width="9" height="2" fill="#ff0000"/>
<rect x="291" y="296" width="3" height="2" fill="#008000"/>
<rect x="297" y="296" width="3" height="2" fill="#008000"/>
<rect x="256" y="294" width="4" height="2" fill="#ff0000"/>
<rect x="291" y="294" width="3" height="2" fill="#008000"/>
<rect x="297" y="294" width="3" height="2" fill="#008000"/>
<rect x="300" y="348" width="1" height="2" fill="#008000"/>
<rect x="319" y="348" width="4" height="2" fill="#008000"/>
<rect x="301" y="344" width="3" height="6" fill="#ba55d3"/>
<rect x="315" y="344" width="4" height="6" fill="#ba55d3"/>
<rect x="328" y="346" width="7" height="2" fill="#ff0000"/>
<rect x="350" y="346" width="6" height="2" fill="#008000"/>
<rect x="328" y="341" width="7" height="3" fill="#ffb6c1"/>
<rect x="301" y="341" width="3" height="2" fill="#3a3aff"/>
<rect x="301" y="339" width="3" height="2" fill="#00bfff"/>
<rect x="300" y="337" width="1" height="2" fill="#008000"/>
<rect x="315" y="337" width="4" height="2" fill="#008000"/>
<rect x="300" y="335" width="1" height="2" fill="#ffb6c1"/>
<rect x="315" y="335" width="4" height="2" fill="#ba55d3"/>
<rect x="300" y="331" width="1" height="4" fill="#008000"/>
<rect x="301" y="330" width="3" height="3" fill="#3a3aff"/>
<rect x="300" y="326" width="1" height="2" fill="#008000"/>
<rect x="315" y="326" width="4" height="4" fill="#008000"/>
<rect x="315" y="322" width="4" height="2" fill="#00bfff"/>
<rect x="315" y="318" width="4" height="2" fill="#ba55d3"/>
<rect x="300" y="318" width="1" height="4" fill="#008000"/>
<rect x="304" y="313" width="3" height="4" fill="#ba55d3"/>
<rect x="315" y="309" width="4" height="2" fill="#008000"/>
<rect x="356" y="307" width="5" height="2" fill="#ba55d3"/>
<rect x="315" y="302" width="4" height="2" fill="#ba55d3"/>
<rect x="301" y="300" width="3" height="5" fill="#3a3aff"/>
<rect x="301" y="298" width="3" height="2" fill="#008000"/>
<rect x="300" y="300" width="1" height="4" fill="#008000"/>
<rect x="315" y="296" width="4" height="2" fill="#008000"/>
<rect x="300" y="294" width="1" height="4" fill="#008000"/>
<rect x="356" y="294" width="5" height="4" fill="#00bfff"/>
<rect x="356" y="292" width="5" height="2" fill="#ffb6c1"/>
<rect x="256" y="287" width="9" height="4" fill="#ff0000"/>
<rect x="260" y="285" width="5" height="2" fill="#00bfff"/>
<rect x="291" y="285" width="3" height="2" fill="#008000"/>
<rect x="294" y="285" width="3" height="2" fill="#00bfff"/>
<rect x="291" y="287" width="9" height="2" fill="#008000"/>
<rect x="297" y="289" width="3" height="2" fill="#008000"/>
<rect x="256" y="279" width="4" height="4" fill="#ff0000"/>
<rect x="287" y="279" width="4" height="4" fill="#008000"/>
<rect x="260" y="279" width="5" height="2" fill="#ff0000"/>
<rect x="294" y="279" width="3" height="2" fill="#008000"/>
<rect x="297" y="279" width="3" height="2" fill="#ba55d3"/>
<rect x="297" y="281" width="3" height="2" fill="#008000"/>
<rect x="256" y="276" width="4" height="2" fill="#ff0000"/>
<rect x="287" y="274" width="4" height="2" fill="#008000"/>
<rect x="265" y="272" width="4" height="2" fill="#ff0000"/>
<rect x="256" y="268" width="4" height="2" fill="#ff0000"/>
<rect x="260" y="268" width="5" height="2" fill="#ba55d3"/>
<rect x="294" y="263" width="3" height="2" fill="#008000"/>
<rect x="297" y="257" width="3" height="4" fill="#008000"/>
<rect x="291" y="253" width="3" height="4" fill="#008000"/>
<rect x="256" y="244" width="4" height="8" fill="#ff0000"/>
<rect x="260" y="240" width="5" height="2" fill="#ff0000"/>
<rect x="256" y="237" width="13" height="2" fill="#ff0000"/>
<rect x="256" y="235" width="4" height="2" fill="#ff0000"/>
<rect x="297" y="235" width="3" height="5" fill="#008000"/>
<rect x="300" y="287" width="1" height="4" fill="#008000"/>
<rect x="300" y="281" width="1" height="2" fill="#008000"/>
<rect x="300" y="279" width="1" height="2" fill="#ba55d3"/>
<rect x="300" y="257" width="1" height="4" fill="#008000"/>
<rect x="300" y="235" width="1" height="5" fill="#008000"/>
<rect x="328" y="240" width="7" height="2" fill="#00bfff"/>
<rect x="356" y="235" width="5" height="4" fill="#ba55d3"/>
<rect x="356" y="246" width="5" height="4" fill="#ba55d3"/>
<rect x="356" y="252" width="5" height="1" fill="#ba55d3"/>
<rect x="356" y="255" width="5" height="2" fill="#ba55d3"/>
<rect x="356" y="257" width="5" height="2" fill="#ffd700"/>
<rect x="356" y="272" width="5" height="2" fill="#ba55d3"/>
<rect x="356" y="289" width="5" height="2" fill="#ba55d3"/>
<rect x="356" y="292" width="5" height="1" fill="#ffb6c1"/>
<rect x="256" y="233" width="4" height="2" fill="#ff0000"/>
<rect x="260" y="231" width="5" height="2" fill="#00bfff"/>
<rect x="260" y="226" width="5" height="3" fill="#ff0000"/>
<rect x="260" y="220" width="5" height="2" fill="#ff0000"/>
<rect x="256" y="216" width="4" height="2" fill="#ff0000"/>
<rect x="260" y="213" width="5" height="3" fill="#ff0000"/>
<rect x="256" y="189" width="4" height="3" fill="#ff0000"/>
<rect x="256" y="181" width="4" height="4" fill="#ff0000"/>
<rect x="265" y="190" width="4" height="2" fill="#ffd700"/>
<rect x="291" y="190" width="3" height="4" fill="#008000"/>
<rect x="297" y="207" width="3" height="6" fill="#008000"/>
<rect x="297" y="181" width="3" height="2" fill="#008000"/>
<rect x="297" y="235" width="3" height="1" fill="#008000"/>
<rect x="300" y="181" width="1" height="2" fill="#008000"/>
<rect x="300" y="207" width="1" height="6" fill="#008000"/>
<rect x="300" y="235" width="1" height="1" fill="#008000"/>
<rect x="356" y="235" width="5" height="1" fill="#ba55d3"/>
<rect x="328" y="202" width="7" height="1" fill="#3a3aff"/>
<rect x="343" y="192" width="7" height="8" fill="#ba55d3"/>
<rect x="343" y="205" width="7" height="4" fill="#ba55d3"/>
<rect x="328" y="231" width="7" height="2" fill="#008000"/>
<rect x="328" y="233" width="7" height="2" fill="#00bfff"/>
<rect x="350" y="233" width="6" height="2" fill="#ba55d3"/>
<rect x="199" y="413" width="4" height="2" fill="#ff0000"/>
<rect x="199" y="421" width="4" height="5" fill="#ff0000"/>
<rect x="193" y="439" width="3" height="2" fill="#ff0000"/>
<rect x="350" y="354" width="6" height="2" fill="#ba55d3"/>
<rect x="350" y="356" width="6" height="1" fill="#ffd700"/>
<rect x="350" y="357" width="6" height="2" fill="#ba55d3"/>
<rect x="350" y="361" width="6" height="4" fill="#ffd700"/>
<rect x="350" y="365" width="6" height="2" fill="#ba55d3"/>
<rect x="350" y="367" width="6" height="2" fill="#ffd700"/>
<rect x="350" y="369" width="6" height="1" fill="#ba55d3"/>
<rect x="350" y="370" width="6" height="2" fill="#ffd700"/>
<rect x="350" y="372" width="6" height="2" fill="#ba55d3"/>
<rect x="350" y="383" width="6" height="4" fill="#ba55d3"/>
<rect x="343" y="385" width="7" height="2" fill="#ba55d3"/>
<rect x="350" y="387" width="6" height="2" fill="#ffd700"/>
<rect x="343" y="404" width="7" height="2" fill="#ffd700"/>
<rect x="256" y="166" width="4" height="4" fill="#ff0000"/>
<rect x="112" y="320" width="4" height="2" fill="#00bfff"/>
<rect x="431" y="324" width="10" height="2" fill="#ba55d3"/>
<rect x="423" y="415" width="8" height="2" fill="#00bfff"/>
<rect x="376" y="456" width="3" height="2" fill="#3a3aff"/>
<rect x="460" y="582" width="8" height="2" fill="#00ffff"/>
<rect x="510" y="625" width="7" height="3" fill="#ff0000"/>
<rect x="328" y="734" width="7" height="2" fill="#ba55d3"/>
<rect x="328" y="736" width="7" height="2" fill="#ff0000"/>
<rect x="551" y="252" width="6" height="1" fill="#ffd700"/>
<rect x="551" y="266" width="6" height="2" fill="#ffd700"/>
<rect x="551" y="268" width="6" height="2" fill="#ba55d3"/>
<rect x="557" y="283" width="7" height="2" fill="#ba55d3"/>
<rect x="557" y="285" width="7" height="2" fill="#3a3aff"/>
<rect x="564" y="330" width="7" height="1" fill="#00bfff"/>
<rect x="564" y="331" width="7" height="2" fill="#ba55d3"/>
<rect x="544" y="346" width="7" height="2" fill="#ffd700"/>
<rect x="544" y="437" width="7" height="2" fill="#00bfff"/>
<rect x="544" y="487" width="7" height="2" fill="#3a3aff"/>
<rect x="544" y="517" width="7" height="2" fill="#3a3aff"/>
<rect x="557" y="697" width="7" height="2" fill="#ba55d3"/>
<rect x="551" y="731" width="6" height="1" fill="#ffd700"/>
<rect x="544" y="736" width="13" height="2" fill="#ba55d3"/>
<rect x="637" y="226" width="13" height="1" fill="#ba55d3"/>
<rect x="637" y="265" width="13" height="1" fill="#ffb6c1"/>
<rect x="623" y="291" width="14" height="1" fill="#ba55d3"/>
<rect x="637" y="359" width="13" height="4" fill="#ba55d3"/>
<rect x="637" y="383" width="13" height="2" fill="#ba55d3"/>
<rect x="637" y="385" width="13" height="2" fill="#ffd700"/>
<rect x="637" y="474" width="13" height="2" fill="#ffd700"/>
<rect x="650" y="549" width="11" height="1" fill="#ba55d3"/>
<rect x="650" y="710" width="11" height="2" fill="#ba55d3"/>
<rect x="623" y="725" width="14" height="2" fill="#ffd700"/>
<rect x="694" y="335" width="11" height="2" fill="#ffd700"/>
<rect x="694" y="374" width="11" height="2" fill="#ffd700"/>
<rect x="694" y="415" width="11" height="2" fill="#ba55d3"/>
<rect x="694" y="465" width="11" height="2" fill="#ffd700"/>
<rect x="694" y="547" width="11" height="2" fill="#ffd700"/>
<rect x="694" y="554" width="11" height="2" fill="#ffd700"/>
<rect x="694" y="675" width="11" height="2" fill="#3a3aff"/>
<rect x="730" y="343" width="16" height="1" fill="#ba55d3"/>
<rect x="730" y="344" width="16" height="2" fill="#ffd700"/>
</g>
<g stroke="#b0b0b0" stroke-width="1.1" fill="none">
<line x1="138.50" y1="100.5" x2="138.50" y2="793.5"/>
<line x1="230.50" y1="100.5" x2="230.50" y2="793.5"/>
<line x1="323.50" y1="100.5" x2="323.50" y2="793.5"/>
<line x1="415.50" y1="100.5" x2="415.50" y2="793.5"/>
<line x1="508.50" y1="100.5" x2="508.50" y2="793.5"/>
<line x1="600.50" y1="100.5" x2="600.50" y2="793.5"/>
<line x1="692.50" y1="100.5" x2="692.50" y2="793.5"/>
<line x1="92.5" y1="669.50" x2="785.5" y2="669.50"/>
<line x1="92.5" y1="545.50" x2="785.5" y2="545.50"/>
<line x1="92.5" y1="421.50" x2="785.5" y2="421.50"/>
<line x1="92.5" y1="298.50" x2="785.5" y2="298.50"/>
<line x1="92.5" y1="174.50" x2="785.5" y2="174.50"/>
</g>
<g stroke="#000" stroke-width="1.1" fill="none">
<line x1="138.50" y1="793.5" x2="138.50" y2="798.9"/>
<line x1="230.50" y1="793.5" x2="230.50" y2="798.9"/>
<line x1="323.50" y1="793.5" x2="323.50" y2="798.9"/>
<line x1="415.50" y1="793.5" x2="415.50" y2="798.9"/>
<line x1="508.50" y1="793.5" x2="508.50" y2="798.9"/>
<line x1="600.50" y1="793.5" x2="600.50" y2="798.9"/>
<line x1="692.50" y1="793.5" x2="692.50" y2="798.9"/>
<line x1="785.50" y1="793.5" x2="785.50" y2="798.9"/>
<line x1="92.50" y1="793.5" x2="92.50" y2="796.8" stroke-width="0.85"/>
<line x1="115.50" y1="793.5" x2="115.50" y2="796.8" stroke-width="0.85"/>
<line x1="161.50" y1="793.5" x2="161.50" y2="796.8" stroke-width="0.85"/>
<line x1="184.50" y1="793.5" x2="184.50" y2="796.8" stroke-width="0.85"/>
<line x1="207.50" y1="793.5" x2="207.50" y2="796.8" stroke-width="0.85"/>
<line x1="254.50" y1="793.5" x2="254.50" y2="796.8" stroke-width="0.85"/>
<line x1="277.50" y1="793.5" x2="277.50" y2="796.8" stroke-width="0.85"/>
<line x1="300.50" y1="793.5" x2="300.50" y2="796.8" stroke-width="0.85"/>
<line x1="346.50" y1="793.5" x2="346.50" y2="796.8" stroke-width="0.85"/>
<line x1="369.50" y1="793.5" x2="369.50" y2="796.8" stroke-width="0.85"/>
<line x1="392.50" y1="793.5" x2="392.50" y2="796.8" stroke-width="0.85"/>
<line x1="438.50" y1="793.5" x2="438.50" y2="796.8" stroke-width="0.85"/>
<line x1="461.50" y1="793.5" x2="461.50" y2="796.8" stroke-width="0.85"/>
<line x1="485.50" y1="793.5" x2="485.50" y2="796.8" stroke-width="0.85"/>
<line x1="531.50" y1="793.5" x2="531.50" y2="796.8" stroke-width="0.85"/>
<line x1="554.50" y1="793.5" x2="554.50" y2="796.8" stroke-width="0.85"/>
<line x1="577.50" y1="793.5" x2="577.50" y2="796.8" stroke-width="0.85"/>
<line x1="623.50" y1="793.5" x2="623.50" y2="796.8" stroke-width="0.85"/>
<line x1="646.50" y1="793.5" x2="646.50" y2="796.8" stroke-width="0.85"/>
<line x1="669.50" y1="793.5" x2="669.50" y2="796.8" stroke-width="0.85"/>
<line x1="716.50" y1="793.5" x2="716.50" y2="796.8" stroke-width="0.85"/>
<line x1="739.50" y1="793.5" x2="739.50" y2="796.8" stroke-width="0.85"/>
<line x1="762.50" y1="793.5" x2="762.50" y2="796.8" stroke-width="0.85"/>
<line x1="87.1" y1="793.50" x2="92.5" y2="793.50"/>
<line x1="87.1" y1="669.50" x2="92.5" y2="669.50"/>
<line x1="87.1" y1="545.50" x2="92.5" y2="545.50"/>
<line x1="87.1" y1="421.50" x2="92.5" y2="421.50"/>
<line x1="87.1" y1="298.50" x2="92.5" y2="298.50"/>
<line x1="87.1" y1="174.50" x2="92.5" y2="174.50"/>
<line x1="89.2" y1="762.50" x2="92.5" y2="762.50" stroke-width="0.85"/>
<line x1="89.2" y1="731.50" x2="92.5" y2="731.50" stroke-width="0.85"/>
<line x1="89.2" y1="700.50" x2="92.5" y2="700.50" stroke-width="0.85"/>
<line x1="89.2" y1="638.50" x2="92.5" y2="638.50" stroke-width="0.85"/>
<line x1="89.2" y1="607.50" x2="92.5" y2="607.50" stroke-width="0.85"/>
<line x1="89.2" y1="576.50" x2="92.5" y2="576.50" stroke-width="0.85"/>
<line x1="89.2" y1="514.50" x2="92.5" y2="514.50" stroke-width="0.85"/>
<line x1="89.2" y1="483.50" x2="92.5" y2="483.50" stroke-width="0.85"/>
<line x1="89.2" y1="452.50" x2="92.5" y2="452.50" stroke-width="0.85"/>
<line x1="89.2" y1="390.50" x2="92.5" y2="390.50" stroke-width="0.85"/>
<line x1="89.2" y1="360.50" x2="92.5" y2="360.50" stroke-width="0.85"/>
<line x1="89.2" y1="329.50" x2="92.5" y2="329.50" stroke-width="0.85"/>
<line x1="89.2" y1="267.50" x2="92.5" y2="267.50" stroke-width="0.85"/>
<line x1="89.2" y1="236.50" x2="92.5" y2="236.50" stroke-width="0.85"/>
<line x1="89.2" y1="205.50" x2="92.5" y2="205.50" stroke-width="0.85"/>
<line x1="89.2" y1="143.50" x2="92.5" y2="143.50" stroke-width="0.85"/>
<line x1="89.2" y1="112.50" x2="92.5" y2="112.50" stroke-width="0.85"/>
</g>
<rect x="92.5" y="100.5" width="693.0" height="693.0" fill="none" stroke="#000" stroke-width="1.1"/>
<text class="tk" x="138.50" y="814.8" text-anchor="middle">2</text>
<text class="tk" x="230.50" y="814.8" text-anchor="middle">4</text>
<text class="tk" x="323.50" y="814.8" text-anchor="middle">6</text>
<text class="tk" x="415.50" y="814.8" text-anchor="middle">8</text>
<text class="tk" x="508.50" y="814.8" text-anchor="middle">10</text>
<text class="tk" x="600.50" y="814.8" text-anchor="middle">12</text>
<text class="tk" x="692.50" y="814.8" text-anchor="middle">14</text>
<text class="tk" x="785.50" y="814.8" text-anchor="middle">16</text>
<text class="tk" x="81.2" y="798.70" text-anchor="end">0</text>
<text class="tk" x="81.2" y="674.70" text-anchor="end">200</text>
<text class="tk" x="81.2" y="550.70" text-anchor="end">400</text>
<text class="tk" x="81.2" y="426.70" text-anchor="end">600</text>
<text class="tk" x="81.2" y="303.70" text-anchor="end">800</text>
<text class="tk" x="81.2" y="179.70" text-anchor="end">1000</text>
<text class="lb" x="438" y="841.6" text-anchor="middle">Frequency (MHz)</text>
<text class="lb" style="font-size:23.93px" transform="translate(27.7,447.35) rotate(-90)" text-anchor="middle">Virtual height (km)</text>
<text class="ti" x="425.6" y="32" text-anchor="middle">NAL CADI - Jun 01 01:30:00 2023 UTC</text>
<rect x="816.5" y="712.41" width="30.0" height="90.29" fill="#008000"/>
<rect x="816.5" y="622.42" width="30.0" height="90.29" fill="#ff0000"/>
<rect x="816.5" y="532.44" width="30.0" height="90.29" fill="#3a3aff"/>
<rect x="816.5" y="442.45" width="30.0" height="90.29" fill="#ba55d3"/>
<rect x="816.5" y="352.46" width="30.0" height="90.29" fill="#ffb6c1"/>
<rect x="816.5" y="262.48" width="30.0" height="90.29" fill="#ffd700"/>
<rect x="816.5" y="172.49" width="30.0" height="90.29" fill="#00ffff"/>
<rect x="816.5" y="82.50" width="30.0" height="90.29" fill="#00bfff"/>
<rect x="816.5" y="82.5" width="30.0" height="719.9" fill="none" stroke="#000" stroke-width="1.1"/>
<g stroke="#000" stroke-width="1.1" fill="none">
<line x1="846.5" y1="757.41" x2="851.9" y2="757.41"/>
<line x1="846.5" y1="667.42" x2="851.9" y2="667.42"/>
<line x1="846.5" y1="577.43" x2="851.9" y2="577.43"/>
<line x1="846.5" y1="487.44" x2="851.9" y2="487.44"/>
<line x1="846.5" y1="397.46" x2="851.9" y2="397.46"/>
<line x1="846.5" y1="307.47" x2="851.9" y2="307.47"/>
<line x1="846.5" y1="217.48" x2="851.9" y2="217.48"/>
<line x1="846.5" y1="127.49" x2="851.9" y2="127.49"/>
<line x1="846.5" y1="802.40" x2="849.8" y2="802.40" stroke-width="0.85"/>
<line x1="846.5" y1="712.41" x2="849.8" y2="712.41" stroke-width="0.85"/>
<line x1="846.5" y1="622.42" x2="849.8" y2="622.42" stroke-width="0.85"/>
<line x1="846.5" y1="532.44" x2="849.8" y2="532.44" stroke-width="0.85"/>
<line x1="846.5" y1="442.45" x2="849.8" y2="442.45" stroke-width="0.85"/>
<line x1="846.5" y1="352.46" x2="849.8" y2="352.46" stroke-width="0.85"/>
<line x1="846.5" y1="262.48" x2="849.8" y2="262.48" stroke-width="0.85"/>
<line x1="846.5" y1="172.49" x2="849.8" y2="172.49" stroke-width="0.85"/>
<line x1="846.5" y1="82.50" x2="849.8" y2="82.50" stroke-width="0.85"/>
</g>
<text class="cb" style="letter-spacing:-0.1px" x="856" y="763.41">X-mode</text>
<text class="cb" style="letter-spacing:-0.1px" x="856" y="673.42">Vertical</text>
<text class="cb" style="letter-spacing:-0.45px" x="856" y="583.43">NNW</text>
<text class="cb" style="letter-spacing:-0.1px" x="856" y="493.44">W</text>
<text class="cb" style="letter-spacing:-0.35px" x="856" y="403.46">SSW</text>
<text class="cb" style="letter-spacing:-0.35px" x="856" y="313.47">SSE</text>
<text class="cb" style="letter-spacing:-0.1px" x="856" y="223.48">E</text>
<text class="cb" style="letter-spacing:-0.45px" x="856" y="133.49">NNE</text>
<text class="lb" transform="translate(943,442.6) rotate(-90)" text-anchor="middle">Azimuth Direction</text>
</svg></body></html>
